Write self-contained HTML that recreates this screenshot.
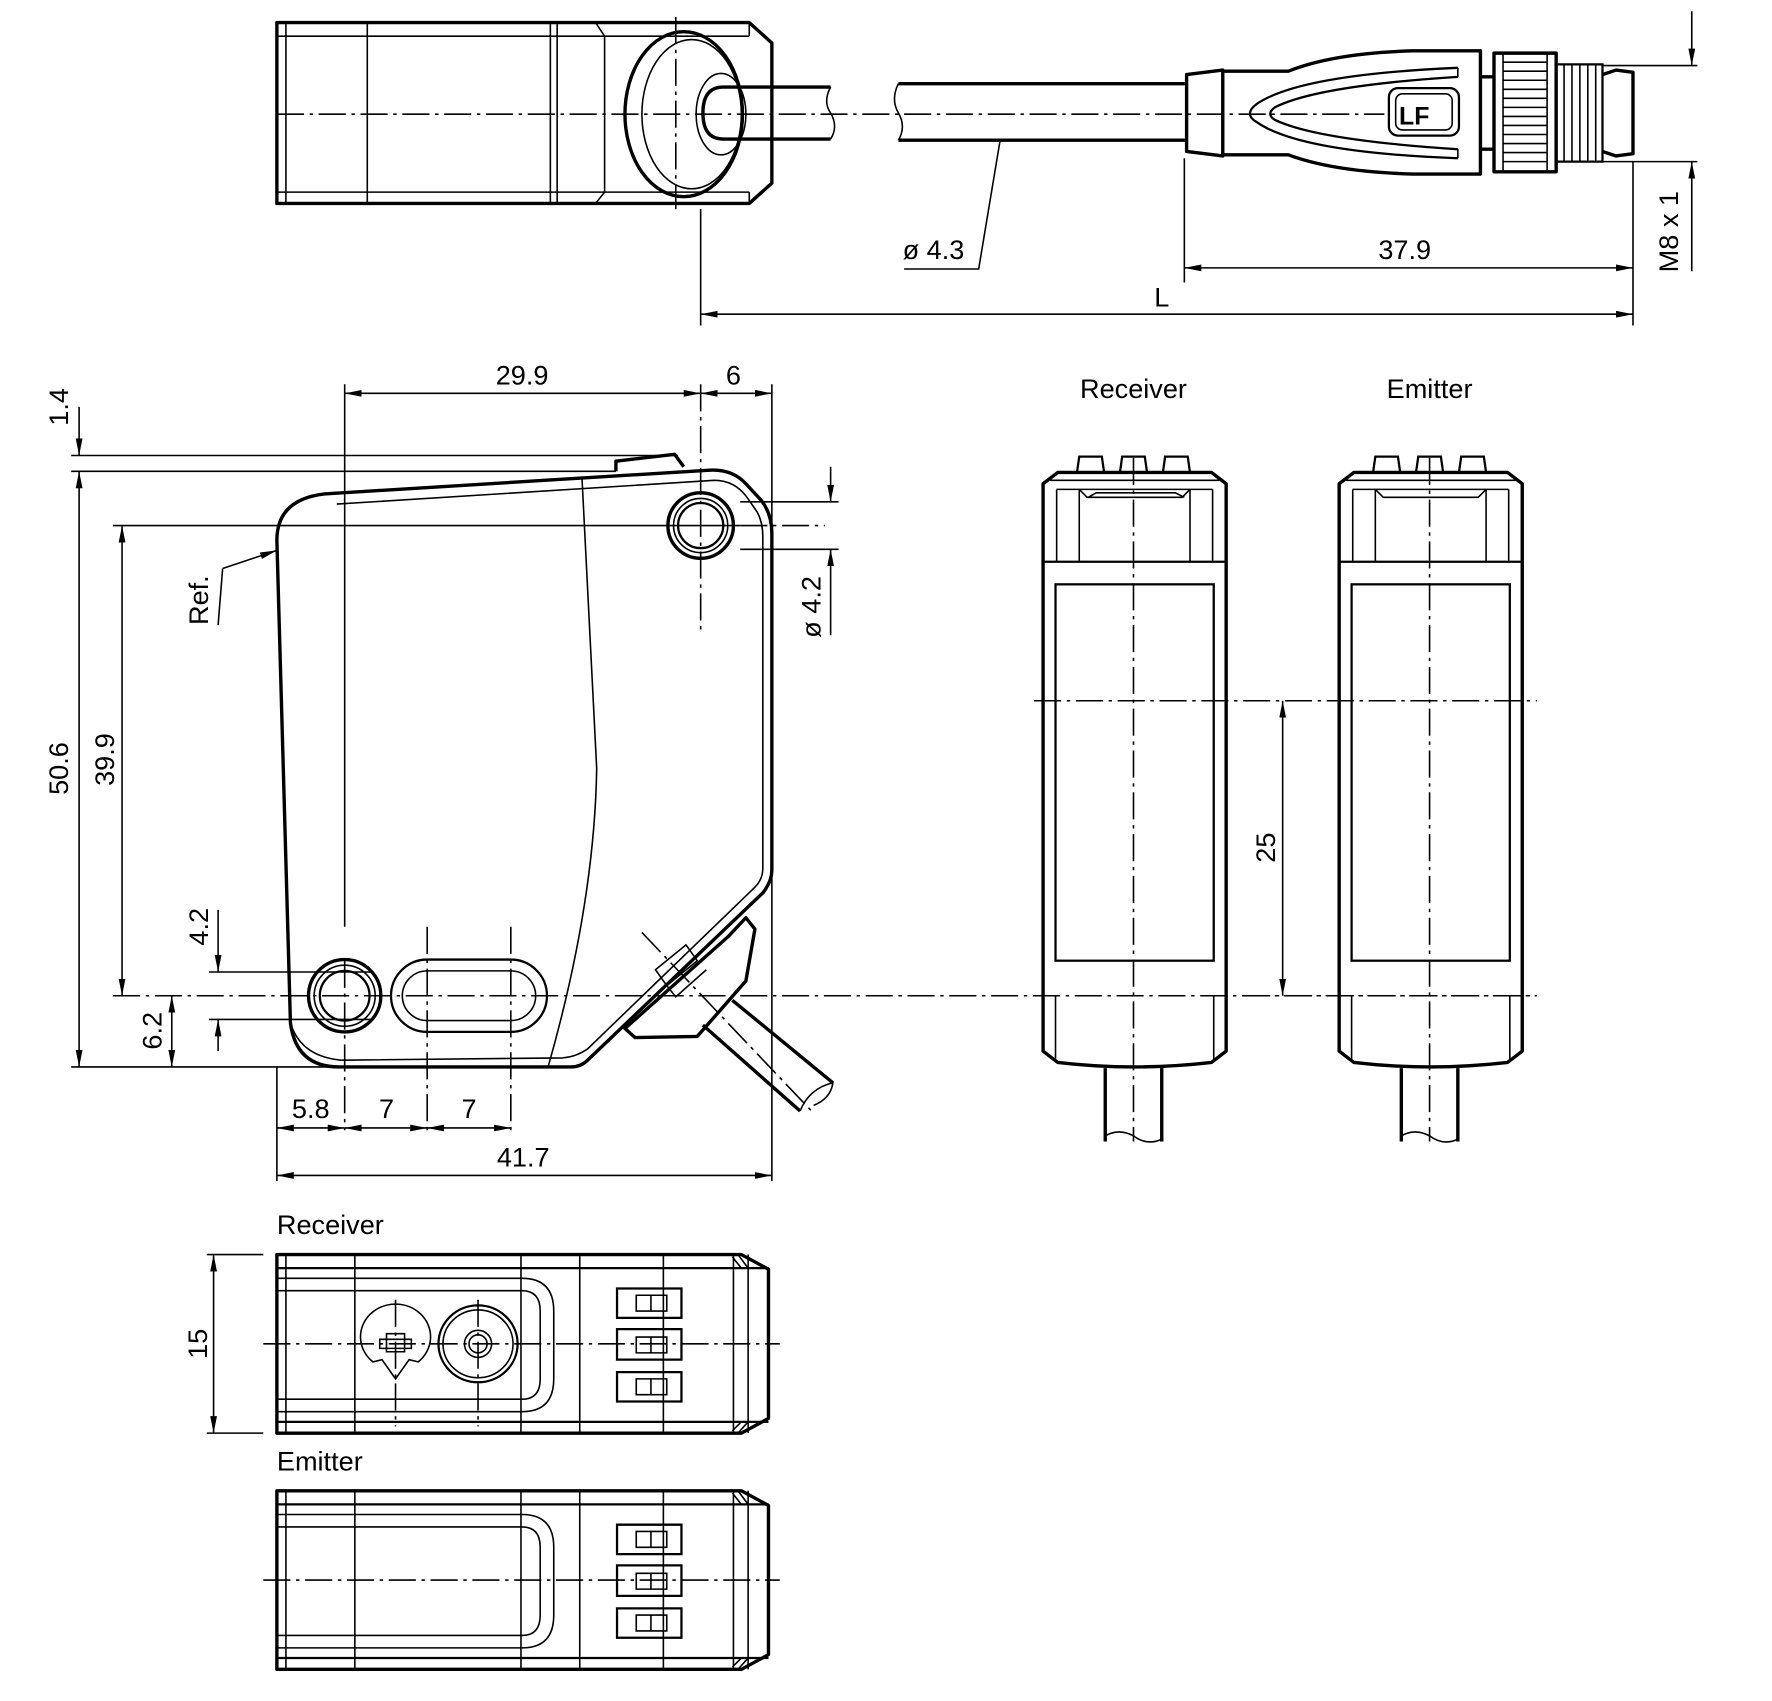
<!DOCTYPE html>
<html><head><meta charset="utf-8"><style>
html,body{margin:0;padding:0;background:#fff;width:1772px;height:1701px;overflow:hidden}
svg{display:block}
text{font-family:"Liberation Sans",sans-serif;font-size:24px;fill:#000}
.k{stroke:#000;stroke-width:3;fill:none;stroke-linejoin:round}
.t{stroke:#000;stroke-width:1.4;fill:none}
.m{stroke:#000;stroke-width:2;fill:none}
.c{stroke:#000;stroke-width:1.4;fill:none;stroke-dasharray:24 5 3 5}
.d{stroke:#000;stroke-width:1.4;fill:none;marker-start:url(#a);marker-end:url(#a)}
.e{stroke:#000;stroke-width:1.4;fill:none;marker-end:url(#a)}
</style></head><body>
<svg width="1772" height="1701" viewBox="0 0 1568 1505" preserveAspectRatio="none" xmlns="http://www.w3.org/2000/svg">
<defs><marker id="a" markerUnits="userSpaceOnUse" markerWidth="16" markerHeight="8" refX="15" refY="3" orient="auto-start-reverse"><path d="M0,0 L15,3 L0,6 Z" fill="#000"/></marker></defs>

<!-- ===== TOP VIEW ===== -->
<path class="k" d="M245 20 L663 20 L683 38 L683 162 L663 180 L245 180 Z"/>
<path class="t" d="M245 32 L663 32 M245 170 L663 170 M663 20 L663 32 M663 170 L663 180 M253 20 L253 180 M325 20 L325 180 M487 20 L487 180 M493 20 L493 180 M527 20 L535 32 L535 170 L527 180"/>
<ellipse class="k" cx="605" cy="101" rx="52" ry="73"/>
<ellipse class="t" cx="612" cy="101" rx="44" ry="66"/>
<ellipse class="t" cx="638" cy="101" rx="22" ry="36"/>
<path class="k" d="M735 77 L640 77 Q622 77 622 100 Q622 123 640 123 L735 123"/>
<path class="t" d="M735 77 Q728 90 735 100 Q742 112 735 123"/>
<path class="k" d="M1050 74 L795 74 M1050 124 L795 124"/>
<path class="t" d="M795 74 Q788 88 795 100 Q802 112 795 124"/>
<path class="c" d="M598 15 L598 185"/>
<path class="c" d="M245 101 L1225 101"/>
<!-- connector -->
<path class="k" d="M1050 66 L1082 62 L1082 138 L1050 134 Z"/>
<path class="k" d="M1082 63 L1140 63 Q1180 47 1250 45 L1310 45 L1310 154 L1250 154 Q1180 152 1140 137 L1082 137"/>
<path class="m" d="M1290 60 Q1150 66 1112 92 Q1100 101 1112 108 Q1150 135 1290 140"/>
<path class="m" d="M1290 68 Q1165 76 1128 95 Q1120 101 1128 106 Q1165 124 1290 132"/>
<path class="t" d="M1290 60 L1290 68 M1290 132 L1290 140"/>
<rect class="m" x="1229" y="78" width="62" height="42" rx="8"/>
<rect class="t" x="1235" y="83" width="50" height="32" rx="6"/>
<text x="1238" y="110" style="font-size:22px;font-weight:bold">LF</text>
<path class="k" d="M1310 68 L1322 68 M1310 132 L1322 132"/>
<rect class="k" x="1322" y="47" width="55" height="105"/>
<path class="t" d="M1330 47 L1330 152 M1369 47 L1369 152 M1330 55 L1369 55 M1330 63 L1369 63 M1330 71 L1369 71 M1330 79 L1369 79 M1330 87 L1369 87 M1330 95 L1369 95 M1330 103 L1369 103 M1330 111 L1369 111 M1330 119 L1369 119 M1330 127 L1369 127 M1330 135 L1369 135 M1330 143 L1369 143"/>
<path class="m" d="M1377 57 L1418 57 L1418 143 L1377 143 Z"/>
<path class="t" d="M1384 57 L1384 143 M1391 57 L1391 143 M1398 57 L1398 143 M1405 57 L1405 143 M1412 57 L1412 143"/>
<path class="k" d="M1418 66 L1430 62 L1445 64 L1445 136 L1430 138 L1418 134"/>
<path class="t" d="M1418 58 L1502 58 M1418 143 L1502 143 M1445 143 L1445 288 M1048 140 L1048 250 M620 185 L620 288"/>
<path class="e" d="M1497 10 L1497 58"/>
<path class="e" d="M1497 240 L1497 143"/>
<text transform="translate(1485,205) rotate(-90)" text-anchor="middle">M8 x 1</text>
<path class="d" d="M1048 237 L1445 237"/>
<text x="1243" y="229" text-anchor="middle">37.9</text>
<path class="d" d="M620 278 L1445 278"/>
<text x="1028" y="271" text-anchor="middle">L</text>
<path class="t" d="M885 124 L866 238 L800 238"/>
<text x="826" y="229" text-anchor="middle">ø 4.3</text>

<!-- ===== FRONT VIEW ===== -->
<path class="k" d="M287 437 L628 416 Q648 415 660 428 L673 442 Q683 454 683 472 L683 770 Q683 780 675 790 L520 938 Q514 944 505 944 L300 944 Q262 944 257 905 L245 478 Q245 442 287 437 Z"/>
<path class="t" d="M298 446 L632 425 Q650 425 661 440 L670 453 Q675 462 675 475 L675 768 Q675 778 668 785 L520 928 Q510 935 498 936 L302 938"/>
<path class="t" d="M258 908 Q268 935 302 938"/>
<path class="t" d="M515 423 Q522 560 528 680 Q526 800 485 944"/>
<path class="k" d="M545 417 L545 408 L597 402 L605 413"/>
<circle class="k" cx="620" cy="465" r="29"/><circle class="t" cx="620" cy="465" r="24"/><circle class="m" cx="620" cy="465" r="20"/>
<circle class="k" cx="305" cy="881" r="32"/><circle class="t" cx="305" cy="881" r="27"/><circle class="m" cx="305" cy="881" r="22"/>
<rect class="m" x="346" y="849" width="138" height="64" rx="32"/>
<rect class="t" x="356" y="859" width="118" height="44" rx="22"/>
<!-- cable/connector -->
<path class="k" d="M553 910 L645 828 L660 812 L668 822 L660 868 L617 917 L562 918 Z"/>
<path class="t" d="M580 858 L607 836 L617 850 L590 872 Z M590 872 L598 882 L625 858"/>
<path class="k" d="M622 907 L708 983 M648 885 L737 958"/>
<path class="t" d="M708 983 Q716 963 737 958 Q735 972 720 978"/>
<path class="c" d="M568 825 L720 985"/>
<!-- dims -->
<path class="t" d="M305 340 L305 820 M683 340 L683 1045 M245 944 L245 1045 M63 944 L300 944 M63 403 L600 403 M63 417 L545 417 M100 465 L655 465 M655 444 L742 444 M655 486 L742 486 M185 860 L330 860 M185 902 L330 902"/>
<path class="c" d="M620 340 L620 560 M655 465 L730 465 M305 850 L305 1000 M378 820 L378 1000 M452 820 L452 1000 M100 881 L1360 881"/>
<path class="d" d="M305 348 L620 348"/><path class="d" d="M620 348 L683 348"/>
<text x="462" y="340" text-anchor="middle">29.9</text><text x="649" y="340" text-anchor="middle">6</text>
<path class="e" d="M70 360 L70 403"/><path class="d" d="M70 417 L70 944"/>
<text transform="translate(60,360) rotate(-90)" text-anchor="middle">1.4</text>
<text transform="translate(60,680) rotate(-90)" text-anchor="middle">50.6</text>
<path class="d" d="M108 465 L108 881"/>
<text transform="translate(101,672) rotate(-90)" text-anchor="middle">39.9</text>
<path class="e" d="M735 413 L735 444"/><path class="e" d="M735 562 L735 486"/>
<text transform="translate(726,537) rotate(-90)" text-anchor="middle">ø 4.2</text>
<path class="e" d="M193 805 L193 860"/><path class="e" d="M193 930 L193 902"/>
<text transform="translate(184,820) rotate(-90)" text-anchor="middle">4.2</text>
<path class="d" d="M152 881 L152 944"/>
<text transform="translate(143,912) rotate(-90)" text-anchor="middle">6.2</text>
<path class="d" d="M245 998 L305 998"/><path class="d" d="M305 998 L378 998"/><path class="d" d="M378 998 L452 998"/>
<text x="275" y="989" text-anchor="middle">5.8</text><text x="342" y="989" text-anchor="middle">7</text><text x="415" y="989" text-anchor="middle">7</text>
<path class="d" d="M245 1040 L683 1040"/>
<text x="463" y="1032" text-anchor="middle">41.7</text>
<path class="e" d="M197 503 L245 487"/><path class="t" d="M197 503 L193 553"/>
<text transform="translate(184,531) rotate(-90)" text-anchor="middle">Ref.</text>

<!-- ===== SIDE VIEWS ===== -->
<text x="1003" y="352" text-anchor="middle">Receiver</text>
<text x="1265" y="352" text-anchor="middle">Emitter</text>
<g id="sv">
<path class="k" d="M936 418 L1072 418 L1085 428 L1085 930 L1072 940 Q1003 948 936 940 L923 930 L923 428 Z"/>
<path class="t" d="M929 425 L1079 425 M935 433 L1073 433 M935 433 L935 497 M955 433 L955 497 M1053 433 L1053 497 M1073 433 L1073 497 M955 433 L962 440 L1046 440 L1053 433"/>
<path class="m" d="M923 497 L1085 497"/>
<rect class="m" x="934" y="517" width="140" height="333"/>
<path class="t" d="M934 881 L934 937 M1074 881 L1074 937"/>
<path class="m" d="M953 418 L955 404 L975 404 L977 418 M991 418 L993 404 L1013 404 L1015 418 M1029 418 L1031 404 L1051 404 L1053 418"/>
<path class="k" d="M978 945 L978 1010 M1028 945 L1028 1010"/>
<path class="t" d="M978 1005 Q990 998 1003 1005 Q1015 1014 1028 1008"/>
<path class="c" d="M1003 405 L1003 1010"/>
</g>
<use href="#sv" x="262"/>
<path class="t" d="M963 440 L970 436 L1040 436 L1048 440"/>
<path class="c" d="M915 620 L1360 620 M1100 881 L1360 881"/>
<path class="d" d="M1135 620 L1135 881"/>
<text transform="translate(1128,750) rotate(-90)" text-anchor="middle">25</text>

<!-- ===== BOTTOM VIEWS ===== -->
<text x="245" y="1092">Receiver</text>
<text x="245" y="1301">Emitter</text>
<g id="bv">
<path class="k" d="M245 1110 L656 1110 L680 1123 L680 1255 L656 1268 L245 1268 Z"/>
<path class="m" d="M245 1122 L680 1122 M245 1258 L680 1258"/>
<path class="t" d="M245 1131 L462 1131 Q490 1131 490 1160 L490 1220 Q490 1249 462 1249 L245 1249 M245 1142 L462 1142 Q478 1142 478 1160 L478 1220 Q478 1238 462 1238 L245 1238"/>
<path class="t" d="M253 1110 L253 1268 M314 1110 L314 1268 M461 1110 L461 1268 M513 1110 L513 1268 M587 1110 L587 1268 M649 1110 L649 1268 M662 1110 L662 1268 M648 1112 L656 1122 M653 1110 L662 1122 M648 1266 L656 1258 M653 1268 L662 1258"/>
<path class="m" d="M546 1140 L603 1140 L603 1166 L546 1166 Z M546 1176 L603 1176 L603 1203 L546 1203 Z M546 1214 L603 1214 L603 1240 L546 1240 Z"/>
<path class="t" d="M563 1146 L590 1146 L590 1160 L563 1160 Z M576 1146 L576 1160 M563 1183 L590 1183 L590 1197 L563 1197 Z M576 1183 L576 1197 M563 1220 L590 1220 L590 1234 L563 1234 Z M576 1220 L576 1234"/>
<path class="c" d="M233 1189 L690 1189"/>
</g>
<use href="#bv" y="209"/>
<path class="t" d="M330 1205 A31 29 0 1 1 370 1205 L362 1203 L350 1220 L338 1203 Z"/>
<path class="t" d="M342 1180 L358 1180 L358 1196 L342 1196 Z M336 1185 L364 1185 L364 1193 L336 1193 Z"/>
<path class="c" d="M350 1150 L350 1262 M423 1150 L423 1262"/>
<ellipse class="m" cx="423" cy="1189" rx="35" ry="34"/>
<ellipse class="t" cx="423" cy="1189" rx="31" ry="30"/>
<ellipse class="t" cx="423" cy="1189" rx="12" ry="12"/>
<ellipse class="t" cx="423" cy="1189" rx="8" ry="8"/>
<path class="t" d="M183 1110 L233 1110 M183 1268 L233 1268"/>
<path class="d" d="M189 1110 L189 1268"/>
<text transform="translate(183,1189) rotate(-90)" text-anchor="middle">15</text>
</svg>
</body></html>
